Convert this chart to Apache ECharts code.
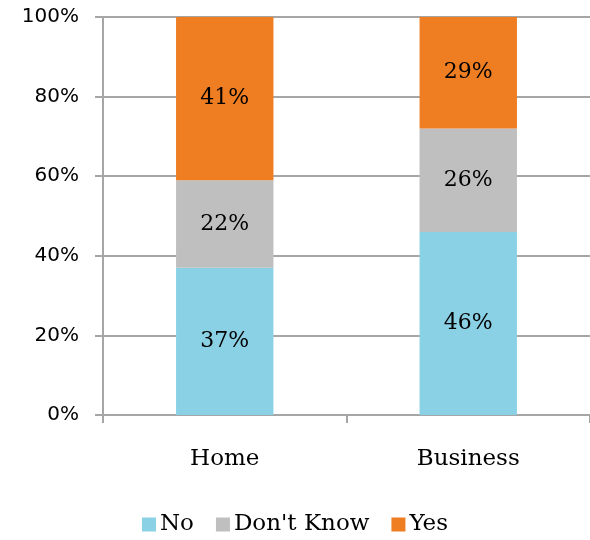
<!DOCTYPE html>
<html>
<head>
<meta charset="utf-8">
<script src="https://cdn.jsdelivr.net/npm/echarts@6/dist/echarts.min.js"></script>
<style>
  html, body { margin: 0; padding: 0; background: #fff; }
  #chart { width: 590px; height: 540px; }
</style>
</head>
<body>
<div id="chart"></div>
<script>
// Survey answers by customer type, in percent
const categories = ['Home', 'Business'];
const noValues = [37, 46];
const dontKnowValues = [22, 26];
const yesValues = [41, 29];
const yTicks = [0, 20, 40, 60, 80, 100];

const serifFont = '"DejaVu Serif", serif';
const sansFont = '"DejaVu Sans", sans-serif';
const gridColor = '#a6a6a6';

function stackSeries(name, values, color) {
  return {
    name: name,
    type: 'bar',
    stack: 'total',
    data: values,
    barWidth: '40%',
    itemStyle: { color: color },
    label: {
      show: true,
      position: 'inside',
      formatter: p => p.value + '%',
      fontFamily: serifFont,
      fontSize: 22,
      color: '#000'
    },
    emphasis: { disabled: true }
  };
}

const chart = echarts.init(document.getElementById('chart'), null, { renderer: 'canvas' });
chart.setOption({
  animation: false,
  grid: { left: 103, right: 0, top: 17, bottom: 125, containLabel: false },
  legend: {
    top: 508,
    left: 'center',
    itemWidth: 14,
    itemHeight: 14,
    itemGap: 22,
    icon: 'rect',
    textStyle: { fontFamily: serifFont, fontSize: 23, color: '#000', padding: [0, 0, 0, -1] },
    data: ['No', "Don't Know", 'Yes']
  },
  xAxis: {
    type: 'category',
    data: categories,
    axisLine: { lineStyle: { color: gridColor, width: 2 } },
    axisTick: { show: true, length: 8, lineStyle: { color: gridColor, width: 2 } },
    axisLabel: { fontFamily: serifFont, fontSize: 23, color: '#000', margin: 33 }
  },
  yAxis: {
    type: 'value',
    min: 0,
    max: 100,
    interval: 20,
    axisLine: { show: true, lineStyle: { color: gridColor, width: 2 } },
    axisTick: { show: true, length: 8, lineStyle: { color: gridColor, width: 2 } },
    splitLine: { show: true, lineStyle: { color: gridColor, width: 2 } },
    axisLabel: {
      fontFamily: sansFont,
      fontSize: 20,
      color: '#000',
      margin: 24,
      customValues: yTicks,
      formatter: v => v + '%'
    }
  },
  series: [
    stackSeries('No', noValues, '#8bd1e6'),
    stackSeries("Don't Know", dontKnowValues, '#bfbfbf'),
    stackSeries('Yes', yesValues, '#ef7d22')
  ]
});
</script>
</body>
</html>
